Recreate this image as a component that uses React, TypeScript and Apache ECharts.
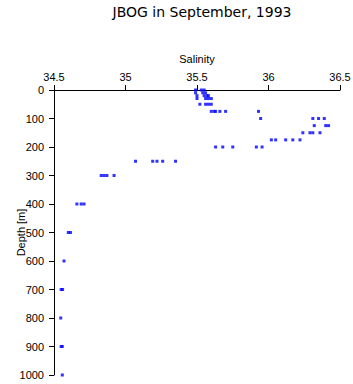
import React, { useEffect, useRef } from "react";
import * as echarts from "echarts";

const titleText = "JBOG in September, 1993";
const xName = "Salinity";
const yName = "Depth [m]";

// Each profile depth (m) with the salinities observed at it
const depths = [0, 10, 20, 30, 50, 75, 100, 125, 150, 175, 200, 250, 300, 400, 500, 600, 700, 800, 900, 1000];
const salinities: number[][] = [
  [35.49, 35.53, 35.55],
  [35.49, 35.54, 35.56],
  [35.5, 35.55, 35.57, 35.58],
  [35.5, 35.56, 35.58, 35.6],
  [35.52, 35.56, 35.58, 35.6],
  [35.6, 35.62, 35.63, 35.66, 35.7, 35.93],
  [35.945, 36.31, 36.35, 36.39],
  [36.32, 36.4, 36.42],
  [36.24, 36.29, 36.31, 36.36],
  [36.02, 36.05, 36.12, 36.17, 36.22],
  [35.63, 35.68, 35.75, 35.915, 35.955],
  [35.07, 35.19, 35.22, 35.26, 35.35],
  [34.83, 34.85, 34.87, 34.92],
  [34.66, 34.69, 34.71],
  [34.6, 34.615],
  [34.57],
  [34.55, 34.56],
  [34.547],
  [34.55, 34.558],
  [34.558],
];

export default function App() {
  const ref = useRef<HTMLDivElement>(null);
  useEffect(() => {
    if (!ref.current) return;
    const chart = echarts.init(ref.current, null, { renderer: "svg" });
    const data: number[][] = [];
    depths.forEach((d, i) => salinities[i].forEach((s) => data.push([s, d])));
    const font = "'Liberation Sans', Arial, sans-serif";
    chart.setOption({
      animation: false,
      backgroundColor: "#ffffff",
      title: {
        text: titleText,
        left: 197,
        textAlign: "center",
        top: 0,
        textStyle: { fontSize: 14, fontWeight: "normal", color: "#000", fontFamily: "'DejaVu Sans', sans-serif" },
      },
      grid: { left: 54, right: 13, top: 90, bottom: 9, containLabel: false, outerBoundsMode: "none" },
      xAxis: {
        type: "value",
        position: "top",
        min: 34.5,
        max: 36.5,
        interval: 0.5,
        name: xName,
        nameLocation: "middle",
        nameGap: 26,
        nameMoveOverlap: false,
        nameTextStyle: { fontSize: 11, color: "#000", fontFamily: font },
        axisLine: { show: true, lineStyle: { color: "#000", width: 1 } },
        axisTick: { show: true, length: 5, lineStyle: { color: "#000" } },
        axisLabel: { fontSize: 11, color: "#000", fontFamily: font, margin: 8, formatter: (v: number) => String(v) },
        splitLine: { show: false },
      },
      yAxis: {
        type: "value",
        inverse: true,
        min: 0,
        max: 1000,
        interval: 100,
        name: yName,
        nameLocation: "middle",
        nameGap: 28,
        nameMoveOverlap: false,
        nameTextStyle: { fontSize: 11, color: "#000", fontFamily: font },
        axisLine: { show: true, lineStyle: { color: "#000", width: 1 } },
        axisTick: { show: true, length: 5, lineStyle: { color: "#000" } },
        axisLabel: { fontSize: 11, color: "#000", fontFamily: font, margin: 10, formatter: (v: number) => String(v) },
        splitLine: { show: false },
      },
      series: [
        {
          type: "scatter",
          data,
          symbol: "rect",
          symbolSize: [3, 3],
          itemStyle: { color: "#0000ff" },
        },
      ],
    });
    return () => chart.dispose();
  }, []);
  return (
    <div
      ref={ref}
      style={{ position: "absolute", left: 0, top: 0, width: 353, height: 384 }}
    />
  );
}
